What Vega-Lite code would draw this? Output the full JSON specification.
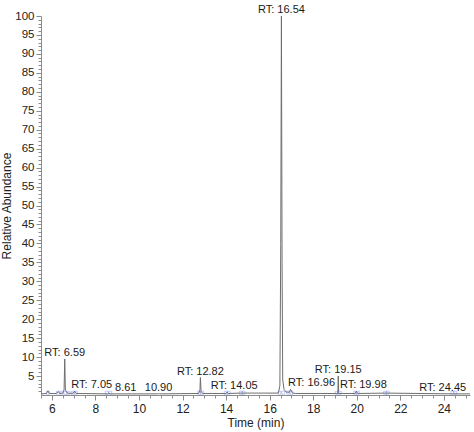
{
  "$schema": "https://vega.github.io/schema/vega-lite/v6.json",
  "width": 429,
  "height": 379,
  "autosize": {"type": "none"},
  "padding": {"left": 41, "top": 16, "right": 4, "bottom": 37},
  "config": {
    "view": {"stroke": null},
    "font": "Liberation Sans",
    "axis": {
      "grid": false,
      "domainColor": "#8c8c8c",
      "tickColor": "#8c8c8c",
      "labelColor": "#222222",
      "titleColor": "#222222",
      "titleFontWeight": "normal",
      "labelFont": "Liberation Sans",
      "titleFont": "Liberation Sans"
    }
  },
  "datasets": {
    "trace": [
      {"time": 5.5, "abundance": 0.3},
      {"time": 5.75, "abundance": 0.4},
      {"time": 5.82, "abundance": 1.1},
      {"time": 5.88, "abundance": 0.4},
      {"time": 6.2, "abundance": 0.4},
      {"time": 6.3, "abundance": 0.9},
      {"time": 6.36, "abundance": 0.4},
      {"time": 6.5, "abundance": 0.5},
      {"time": 6.56, "abundance": 1.4},
      {"time": 6.59, "abundance": 9.5},
      {"time": 6.62, "abundance": 1.2},
      {"time": 6.7, "abundance": 0.6},
      {"time": 6.8, "abundance": 0.4},
      {"time": 6.98, "abundance": 0.5},
      {"time": 7.05, "abundance": 1.0},
      {"time": 7.12, "abundance": 0.4},
      {"time": 8.55, "abundance": 0.3},
      {"time": 8.61, "abundance": 0.5},
      {"time": 8.68, "abundance": 0.3},
      {"time": 10.85, "abundance": 0.3},
      {"time": 10.9, "abundance": 0.4},
      {"time": 10.95, "abundance": 0.3},
      {"time": 12.74, "abundance": 0.4},
      {"time": 12.8, "abundance": 1.4},
      {"time": 12.82, "abundance": 4.6},
      {"time": 12.85, "abundance": 1.0},
      {"time": 12.92, "abundance": 0.4},
      {"time": 14.0, "abundance": 0.4},
      {"time": 14.05, "abundance": 0.8},
      {"time": 14.1, "abundance": 0.4},
      {"time": 14.7, "abundance": 0.5},
      {"time": 16.4, "abundance": 0.5},
      {"time": 16.47, "abundance": 2.5},
      {"time": 16.51, "abundance": 40},
      {"time": 16.54, "abundance": 100},
      {"time": 16.57, "abundance": 35},
      {"time": 16.6, "abundance": 4},
      {"time": 16.66, "abundance": 1.5},
      {"time": 16.75, "abundance": 0.8},
      {"time": 16.9, "abundance": 0.7},
      {"time": 16.96, "abundance": 1.5},
      {"time": 17.05, "abundance": 0.5},
      {"time": 17.2, "abundance": 0.4},
      {"time": 19.13, "abundance": 0.4},
      {"time": 19.15, "abundance": 5.0},
      {"time": 19.17, "abundance": 0.4},
      {"time": 19.93, "abundance": 0.4},
      {"time": 19.98, "abundance": 1.0},
      {"time": 20.04, "abundance": 0.4},
      {"time": 21.35, "abundance": 0.5},
      {"time": 24.4, "abundance": 0.3},
      {"time": 24.45, "abundance": 0.4},
      {"time": 24.5, "abundance": 0.3},
      {"time": 25.2, "abundance": 0.3}
    ],
    "peaks": [
      {"rt": 6.59, "abundance": 9.5, "label": "RT: 6.59"},
      {"rt": 7.05, "abundance": 1.0, "label": "RT: 7.05"},
      {"rt": 8.61, "abundance": 0.3, "label": "8.61"},
      {"rt": 10.9, "abundance": 0.3, "label": "10.90"},
      {"rt": 12.82, "abundance": 4.6, "label": "RT: 12.82"},
      {"rt": 14.05, "abundance": 0.8, "label": "RT: 14.05"},
      {"rt": 16.54, "abundance": 100, "label": "RT: 16.54"},
      {"rt": 16.96, "abundance": 1.6, "label": "RT: 16.96"},
      {"rt": 19.15, "abundance": 5.0, "label": "RT: 19.15"},
      {"rt": 19.98, "abundance": 1.0, "label": "RT: 19.98"},
      {"rt": 24.45, "abundance": 0.3, "label": "RT: 24.45"}
    ],
    "bounds": [
      {"time": 5.82, "abundance": 0.6},
      {"time": 6.28, "abundance": 0.6},
      {"time": 6.45, "abundance": 0.6},
      {"time": 6.62, "abundance": 0.6},
      {"time": 6.75, "abundance": 0.6},
      {"time": 6.95, "abundance": 0.6},
      {"time": 7.1, "abundance": 0.6},
      {"time": 8.52, "abundance": 0.6},
      {"time": 8.68, "abundance": 0.6},
      {"time": 12.76, "abundance": 0.6},
      {"time": 12.9, "abundance": 0.6},
      {"time": 13.98, "abundance": 0.6},
      {"time": 14.12, "abundance": 0.6},
      {"time": 14.68, "abundance": 0.6},
      {"time": 14.8, "abundance": 0.6},
      {"time": 16.45, "abundance": 0.6},
      {"time": 16.62, "abundance": 0.6},
      {"time": 16.85, "abundance": 0.6},
      {"time": 17.0, "abundance": 0.6},
      {"time": 19.08, "abundance": 0.6},
      {"time": 19.22, "abundance": 0.6},
      {"time": 19.93, "abundance": 0.6},
      {"time": 20.05, "abundance": 0.6},
      {"time": 21.3, "abundance": 0.6},
      {"time": 21.42, "abundance": 0.6},
      {"time": 24.4, "abundance": 0.6},
      {"time": 24.52, "abundance": 0.6}
    ]
  },
  "layer": [
    {
      "data": {"name": "trace"},
      "mark": {"type": "line", "color": "#6e6e6e", "strokeWidth": 1},
      "encoding": {
        "x": {
          "field": "time",
          "type": "quantitative",
          "scale": {"domain": [5.5, 25.2], "nice": false, "zero": false},
          "axis": {
            "orient": "bottom",
            "title": "Time (min)",
            "values": [6, 8, 10, 12, 14, 16, 18, 20, 22, 24],
            "labelFontSize": 12,
            "titleFontSize": 12,
            "tickSize": 5,
            "labelPadding": 3,
            "titlePadding": 3
          }
        },
        "y": {
          "field": "abundance",
          "type": "quantitative",
          "scale": {"domain": [0, 100], "nice": false},
          "axis": {
            "orient": "left",
            "title": "Relative Abundance",
            "values": [5, 10, 15, 20, 25, 30, 35, 40, 45, 50, 55, 60, 65, 70, 75, 80, 85, 90, 95, 100],
            "labelFontSize": 11.5,
            "titleFontSize": 12,
            "tickSize": 5,
            "labelPadding": 2,
            "titlePadding": 1
          }
        }
      }
    },
    {
      "data": {"name": "bounds"},
      "mark": {"type": "point", "shape": "square", "filled": false, "size": 9, "color": "#6a78d8", "strokeWidth": 0.7, "opacity": 0.55},
      "encoding": {
        "x": {
          "field": "time",
          "type": "quantitative",
          "axis": {
            "orient": "bottom",
            "title": null,
            "labels": false,
            "domain": false,
            "tickSize": 3,
            "values": [5.5, 6.5, 7, 7.5, 8.5, 9, 9.5, 10.5, 11, 11.5, 12.5, 13, 13.5, 14.5, 15, 15.5, 16.5, 17, 17.5, 18.5, 19, 19.5, 20.5, 21, 21.5, 22.5, 23, 23.5, 24.5, 25]
          }
        },
        "y": {
          "field": "abundance",
          "type": "quantitative",
          "axis": {
            "orient": "left",
            "title": null,
            "labels": false,
            "domain": false,
            "tickSize": 3,
            "values": [1, 2, 3, 4, 6, 7, 8, 9, 11, 12, 13, 14, 16, 17, 18, 19, 21, 22, 23, 24, 26, 27, 28, 29, 31, 32, 33, 34, 36, 37, 38, 39, 41, 42, 43, 44, 46, 47, 48, 49, 51, 52, 53, 54, 56, 57, 58, 59, 61, 62, 63, 64, 66, 67, 68, 69, 71, 72, 73, 74, 76, 77, 78, 79, 81, 82, 83, 84, 86, 87, 88, 89, 91, 92, 93, 94, 96, 97, 98, 99]
          }
        }
      }
    },
    {
      "data": {"name": "peaks"},
      "transform": [{"filter": {"field": "label", "oneOf": ["RT: 6.59", "10.90", "RT: 12.82", "RT: 16.54", "RT: 19.15"]}}],
      "mark": {"type": "text", "fontSize": 11, "baseline": "alphabetic", "dy": -3, "color": "#1a1a1a"},
      "encoding": {
        "x": {"field": "rt", "type": "quantitative", "axis": null},
        "y": {"field": "abundance", "type": "quantitative", "axis": null},
        "text": {"field": "label"}
      }
    },
    {
      "data": {"name": "peaks"},
      "transform": [{"filter": {"field": "label", "oneOf": ["RT: 7.05", "8.61"]}}],
      "mark": {"type": "text", "fontSize": 11, "baseline": "alphabetic", "dy": -3, "dx": 17, "color": "#1a1a1a"},
      "encoding": {
        "x": {"field": "rt", "type": "quantitative", "axis": null},
        "y": {"field": "abundance", "type": "quantitative", "axis": null},
        "text": {"field": "label"}
      }
    },
    {
      "data": {"name": "peaks"},
      "transform": [{"filter": {"field": "label", "oneOf": ["RT: 16.96"]}}],
      "mark": {"type": "text", "fontSize": 11, "baseline": "alphabetic", "dy": -3, "dx": 21, "color": "#1a1a1a"},
      "encoding": {
        "x": {"field": "rt", "type": "quantitative", "axis": null},
        "y": {"field": "abundance", "type": "quantitative", "axis": null},
        "text": {"field": "label"}
      }
    },
    {
      "data": {"name": "peaks"},
      "transform": [{"filter": {"field": "label", "oneOf": ["RT: 19.98", "RT: 14.05"]}}],
      "mark": {"type": "text", "fontSize": 11, "baseline": "alphabetic", "dy": -3, "dx": 7, "color": "#1a1a1a"},
      "encoding": {
        "x": {"field": "rt", "type": "quantitative", "axis": null},
        "y": {"field": "abundance", "type": "quantitative", "axis": null},
        "text": {"field": "label"}
      }
    },
    {
      "data": {"name": "peaks"},
      "transform": [{"filter": {"field": "label", "oneOf": ["RT: 24.45"]}}],
      "mark": {"type": "text", "fontSize": 11, "baseline": "alphabetic", "dy": -3, "dx": -11, "color": "#1a1a1a"},
      "encoding": {
        "x": {"field": "rt", "type": "quantitative", "axis": null},
        "y": {"field": "abundance", "type": "quantitative", "axis": null},
        "text": {"field": "label"}
      }
    }
  ],
  "resolve": {"axis": {"x": "independent", "y": "independent"}}
}
